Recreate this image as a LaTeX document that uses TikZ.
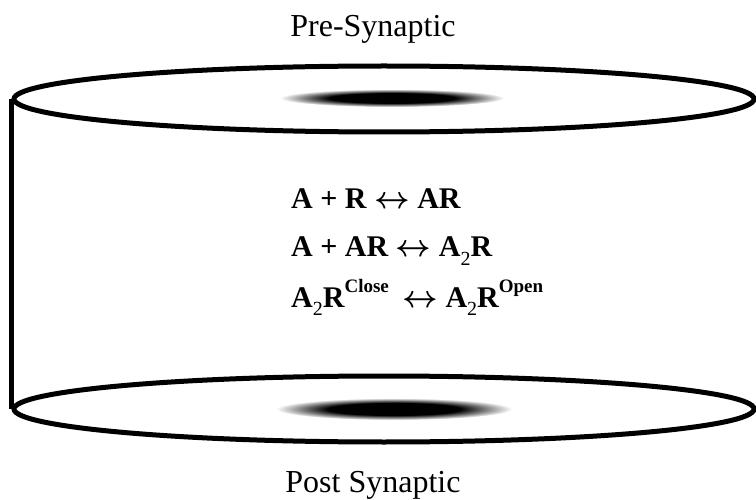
\RequirePackage{fix-cm}
\documentclass[tikz,border=0pt]{standalone}
\usepackage{fontspec}
\setmainfont{Liberation Serif}
\usepackage{tikz}
\usetikzlibrary{shapes.geometric,positioning}

\pgfdeclareradialshading{smear}{\pgfpoint{0bp}{0bp}}{color(0bp)=(black); color(14bp)=(black); color(25bp)=(white); color(50bp)=(white)}
\newcommand{\lowtwo}{\raisebox{-9pt}{\fontsize{20}{20}\selectfont\mdseries 2}}
\newcommand{\upword}[1]{\raisebox{14pt}{\fontsize{19}{19}\selectfont #1}}
\newcommand{\revarrow}{{\fontsize{31}{31}\selectfont\boldmath$\leftrightarrow$}}

\begin{document}
\begin{tikzpicture}[
  x=1pt, y=-1pt,
  disc/.style={draw, ellipse, line width=5pt, minimum width=740pt,
               minimum height=66pt, inner sep=0pt},
  wall/.style={line width=5pt},
  side/.style={anchor=base, font=\fontsize{32}{36}\selectfont},
  eqn/.style={anchor=base west, inner sep=0pt,
              font=\fontsize{30}{34}\selectfont\bfseries}
]
\useasboundingbox (0,0) rectangle (756,500);
% blurred release / receptor zones
\shade[shading=smear] (392,98) ellipse (112 and 9);
\shade[shading=smear] (394,409) ellipse (118 and 11);
% membranes
\node[disc] (pre) at (384,99) {};
\node[disc] (post) at (384,409) {};
\draw[wall] (pre.west) -- (post.west);
\node[side] (prelabel) at (373,37) {Pre-Synaptic};
\node[side] (postlabel) at (373,492) {Post Synaptic};
% reaction scheme
\node[eqn] (bind1) at (291,209) {A + R \revarrow{} AR};
\node[eqn] (bind2) at (291,257) {A + AR \revarrow{} A\lowtwo R};
\node[eqn] (gate) at (291,307) {A\lowtwo R\upword{Close}\hspace{6pt} \revarrow{} A\lowtwo R\upword{Open}};
\end{tikzpicture}
\end{document}
